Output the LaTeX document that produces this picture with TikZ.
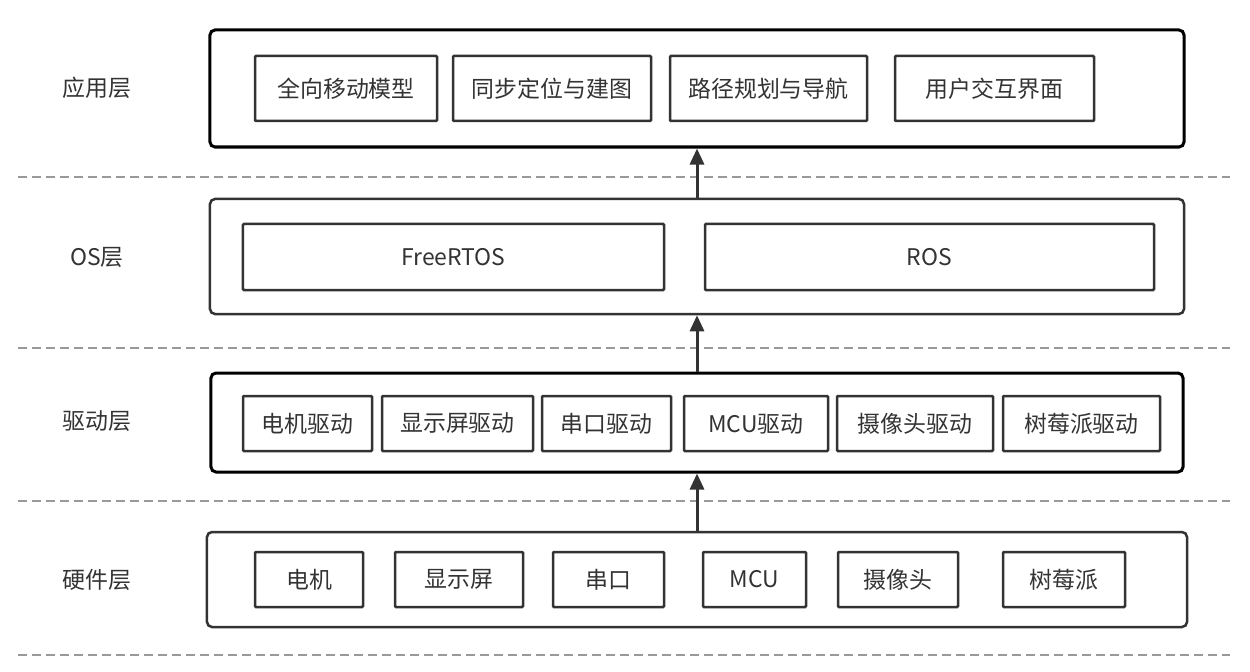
\documentclass[tikz,border=0pt]{standalone}
\usepackage{fontspec}
\setmainfont{Noto Sans CJK SC}
\usetikzlibrary{arrows.meta}
\definecolor{boxgray}{HTML}{333333}
\definecolor{linegray}{HTML}{999999}
\tikzset{
  layerbox/.style={draw,line width=3bp,rounded corners=5bp,inner sep=0pt},
  softlayer/.style={layerbox,draw=boxgray,line width=2.5bp},
  part/.style={draw=boxgray,line width=2.5bp,rounded corners=1bp,inner sep=0pt,text=boxgray,font=\fontsize{23}{27}\selectfont},
  layername/.style={text=boxgray,font=\fontsize{23}{27}\selectfont},
  sep/.style={linegray,line width=1.5bp,dash pattern=on 9bp off 5bp},
  up/.style={-{Triangle[width=14bp,length=16bp]},boxgray,line width=3bp}
}
\begin{document}
\begin{tikzpicture}[x=1bp,y=-1bp]
\useasboundingbox (0,0) rectangle (1250,672);
% layers
\node (App) [layerbox,minimum width=974bp,minimum height=117bp] at (697,88.5) {};
\node (OS) [softlayer,minimum width=974bp,minimum height=115bp] at (697,256.5) {};
\node (Drv) [layerbox,minimum width=972bp,minimum height=99bp] at (697,422.5) {};
\node (HW) [softlayer,minimum width=980bp,minimum height=95bp] at (697,579.5) {};
% layer names
\node (AppName) [layername] at (97,88) {应用层};
\node (OSName) [layername] at (97,257) {OS层};
\node (DrvName) [layername] at (97,421) {驱动层};
\node (HWName) [layername] at (97,580) {硬件层};
% separators
\draw [sep] (18,177) -- (1230,177);
\draw [sep] (18,348) -- (1230,348);
\draw [sep] (18,501) -- (1230,501);
\draw [sep] (18,655) -- (1230,655);
% application layer
\node (Move) [part,minimum width=182bp,minimum height=65bp] at (346,88.5) {全向移动模型};
\node (Slam) [part,minimum width=198bp,minimum height=65bp] at (552,88.5) {同步定位与建图};
\node (Nav) [part,minimum width=197bp,minimum height=65bp] at (768.5,88.5) {路径规划与导航};
\node (Gui) [part,minimum width=199bp,minimum height=65bp] at (994.5,88.5) {用户交互界面};
% os layer
\node (Rtos) [part,minimum width=421bp,minimum height=66bp] at (453.5,257) {FreeRTOS};
\node (Ros) [part,minimum width=449bp,minimum height=66bp] at (929.5,257) {ROS};
% driver layer
\node (MotorDrv) [part,minimum width=129bp,minimum height=55bp] at (307.5,423.5) {电机驱动};
\node (ScreenDrv) [part,minimum width=151bp,minimum height=55bp] at (457.5,423.5) {显示屏驱动};
\node (UartDrv) [part,minimum width=129bp,minimum height=55bp] at (606.5,423.5) {串口驱动};
\node (McuDrv) [part,minimum width=144bp,minimum height=55bp] at (756,423.5) {MCU驱动};
\node (CamDrv) [part,minimum width=156bp,minimum height=55bp] at (915,423.5) {摄像头驱动};
\node (PiDrv) [part,minimum width=157bp,minimum height=55bp] at (1081.5,423.5) {树莓派驱动};
% hardware layer
\node (Motor) [part,minimum width=108bp,minimum height=55bp] at (309,579.5) {电机};
\node (Screen) [part,minimum width=128bp,minimum height=55bp] at (459,579.5) {显示屏};
\node (Uart) [part,minimum width=111bp,minimum height=55bp] at (608.5,579.5) {串口};
\node (Mcu) [part,minimum width=103bp,minimum height=55bp] at (754.5,579.5) {MCU};
\node (Cam) [part,minimum width=120bp,minimum height=55bp] at (898,579.5) {摄像头};
\node (Pi) [part,minimum width=122bp,minimum height=55bp] at (1064,579.5) {树莓派};
% arrows
\draw [up] (OS) -- (App);
\draw [up] (Drv) -- (OS);
\draw [up] (HW) -- (Drv);
\end{tikzpicture}
\end{document}
